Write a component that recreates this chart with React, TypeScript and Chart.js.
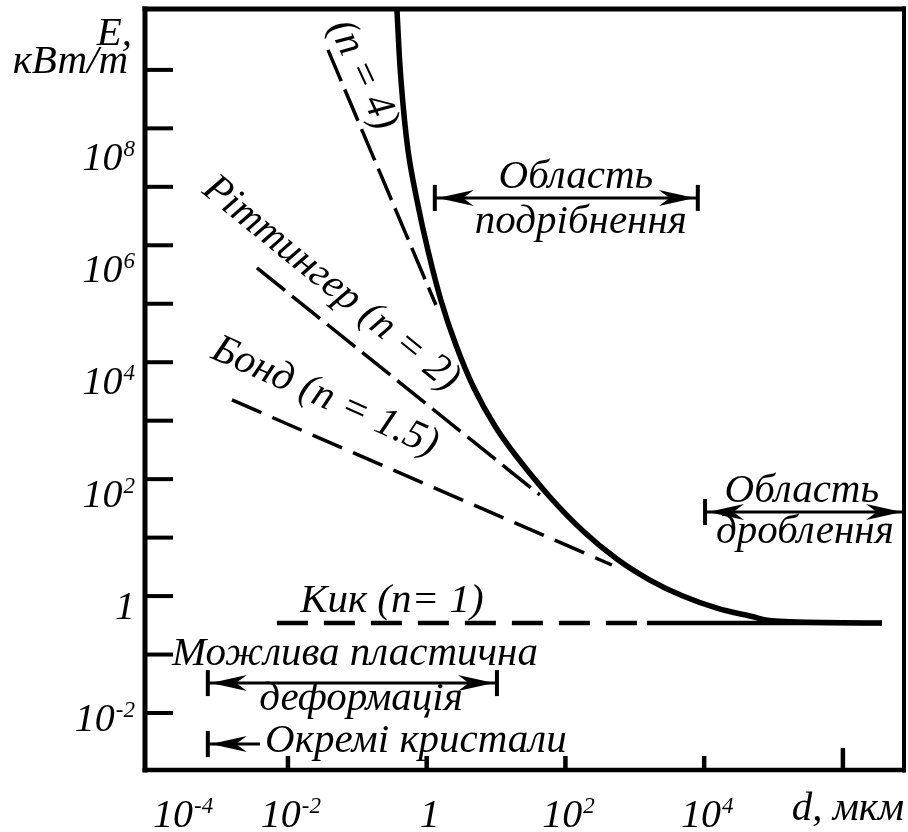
import { useEffect, useRef } from "react";
import { Chart, registerables } from "chart.js";

Chart.register(...registerables);

const FONT = '"Liberation Serif", "Times New Roman", serif';
const INK = "#000";
const font = (px: number) => `italic ${px}px ${FONT}`;
const TEXT_PX = 41;
const TICK_PX = 40;
const SUP_PX = 23;

// Axis ranges: particle size d (мкм) and specific energy E (кВт/т), both logarithmic
const X_MIN = 8.7e-5;
const X_MAX = 7.6e6;
const Y_MIN = 1.06e-3;
const Y_MAX = 1.1e10;

// Tick marks and tick labels
const yTickValues = [1e-2, 1e-1, 1, 1e1, 1e2, 1e3, 1e4, 1e5, 1e6, 1e7, 1e8, 1e9];
const yLabelValues = [1e8, 1e6, 1e4, 1e2, 1, 1e-2];
const yLabelBase = ["10", "10", "10", "10", "1", "10"];
const yLabelPower = ["8", "6", "4", "2", "", "-2"];

const xTickValues = [1e-2, 1, 1e2, 1e4, 1e6];
const xLabelValues = [1e-4, 1e-2, 1, 1e2, 1e4];
const xLabelBase = ["10", "10", "1", "10", "10"];
const xLabelPower = ["-4", "-2", "", "2", "4"];
const xTitleValue = 1e6;
const xTitle = "d, мкм";
const yTitle = ["E,", "кВт/т"];

// Total size-reduction energy curve
const totalD = [0.372, 0.426, 0.537, 0.723, 1.04, 1.6, 2.64, 4.8, 9.64, 20.0, 59.8, 179, 552, 1650, 4940, 15300, 45600, 1.05e5, 3.65e6];
const totalE = [1.1e10, 6.75e8, 4.28e7, 5.97e6, 8.32e5, 1.16e5, 1.97e4, 3620, 811, 239, 49.5, 13.0, 4.31, 1.88, 1.0, 0.62, 0.456, 0.374, 0.346];

// Kick law (n = 1): dashed, then solid where it joins the curve
const kickD = [6.93e-3, 1.5e3, 3.65e6];
const kickE = [0.346, 0.346, 0.346];

// Bond law (n = 1.5)
const bondD = [1.56e-3, 468];
const bondE = [2260, 3.4];

// Rittinger law (n = 2)
const rittingerD = [3.57e-3, 42.8];
const rittingerE = [4.1e5, 53.6];

// n = 4 law
const n4D = [0.0378, 1.36];
const n4E = [2.2e9, 9.5e4];

// Inclined curve captions
const slantLabels = [
  { text: "(n = 4)", d: 0.12, e: 8.2e8, angle: 65 },
  { text: "Ріттингер (n = 2)", d: 0.0417, e: 2.18e5, angle: 39 },
  { text: "Бонд (n = 1.5)", d: 0.0341, e: 2540, angle: 24 },
];

// Horizontal captions (centre, baseline)
const flatLabels = [
  { text: "Кик (n= 1)", d: 0.315, e: 0.533 },
  { text: "Область", d: 141.6, e: 9.57e6 },
  { text: "подрібнення", d: 167, e: 1.63e6 },
  { text: "Область", d: 2.56e5, e: 40.6 },
  { text: "дроблення", d: 2.83e5, e: 8.1 },
  { text: "Можлива пластична", d: 0.0925, e: 0.066 },
  { text: "деформація", d: 0.113, e: 0.0112 },
  { text: "Окремі кристали", d: 0.7, e: 2.15e-3 },
];

// Size-range arrows
const rangeArrows = [
  { from: 1.31, to: 8.1e3, e: 6.46e6, barFrom: true, barTo: true, headFrom: true, headTo: true },
  { from: 1.03e4, to: X_MAX, e: 27.4, barFrom: true, barTo: false, headFrom: true, headTo: true },
  { from: 7.0e-4, to: 10.3, e: 0.0325, barFrom: true, barTo: true, headFrom: true, headTo: true },
  { from: 7.0e-4, to: 3.95e-3, e: 2.94e-3, barFrom: true, barTo: false, headFrom: true, headTo: false },
];

const pts = (xs: number[], ys: number[]) => xs.map((x, i) => ({ x, y: ys[i] }));

function seg(ctx: CanvasRenderingContext2D, x1: number, y1: number, x2: number, y2: number, w: number) {
  ctx.lineWidth = w;
  ctx.beginPath();
  ctx.moveTo(x1, y1);
  ctx.lineTo(x2, y2);
  ctx.stroke();
}

function head(ctx: CanvasRenderingContext2D, tipX: number, y: number, dir: number) {
  const L = 36;
  const h = 8;
  ctx.beginPath();
  ctx.moveTo(tipX, y);
  ctx.lineTo(tipX - dir * L, y - h);
  ctx.lineTo(tipX - dir * L * 0.7, y);
  ctx.lineTo(tipX - dir * L, y + h);
  ctx.closePath();
  ctx.fill();
}

function power(
  ctx: CanvasRenderingContext2D,
  base: string,
  pow: string,
  x: number,
  y: number,
  align: "right" | "center",
  minLeft = -Infinity
) {
  ctx.textAlign = "left";
  ctx.textBaseline = "alphabetic";
  ctx.font = font(TICK_PX);
  const wb = ctx.measureText(base).width;
  ctx.font = font(SUP_PX);
  const wp = pow ? ctx.measureText(pow).width + 1 : 0;
  const total = wb + wp;
  let x0 = align === "right" ? x - total : x - total / 2;
  if (x0 < minLeft) x0 = minLeft;
  ctx.font = font(TICK_PX);
  ctx.fillText(base, x0, y);
  if (pow) {
    ctx.font = font(SUP_PX);
    ctx.fillText(pow, x0 + wb + 1, y - 14);
  }
}

// The E labels are set on a slightly tighter pitch than the decade ticks
const yLabelAnchor = (v: number) => Math.pow(10, 0.96 * Math.log10(v) - 0.16);

const decor = {
  id: "decor",
  afterDatasetsDraw(chart: any) {
    const { ctx, chartArea: a } = chart;
    const X = (v: number) => chart.scales.x.getPixelForValue(v);
    const Y = (v: number) => chart.scales.y.getPixelForValue(v);
    ctx.save();
    ctx.fillStyle = INK;
    ctx.strokeStyle = INK;
    ctx.lineCap = "butt";

    // frame
    seg(ctx, a.left, a.top - 2.5, a.left, a.bottom + 2.5, 5);
    seg(ctx, a.left - 2.5, a.top, a.right + 2, a.top, 5);
    seg(ctx, a.right, a.top - 2.5, a.right, a.bottom + 2.5, 4);
    seg(ctx, a.left - 2.5, a.bottom, a.right + 2, a.bottom, 4.5);

    // inward tick marks
    yTickValues.forEach((v) => seg(ctx, a.left, Y(v), a.left + 28, Y(v), 4));
    xTickValues.forEach((v) => seg(ctx, X(v), a.bottom, X(v), a.bottom - (v === xTitleValue ? 22 : 14), 4.5));

    // tick labels
    yLabelValues.forEach((v, i) =>
      power(ctx, yLabelBase[i], yLabelPower[i], a.left - 10, Y(yLabelAnchor(v)) + 13.5, "right")
    );
    xLabelValues.forEach((v, i) => power(ctx, xLabelBase[i], xLabelPower[i], X(v) + 3, a.bottom + 57, "center", a.left + 8));

    // axis titles
    ctx.font = font(TEXT_PX);
    ctx.textBaseline = "alphabetic";
    ctx.textAlign = "center";
    ctx.fillText(xTitle, X(xTitleValue) + 5, a.bottom + 50);
    ctx.textAlign = "right";
    ctx.fillText(yTitle[0], a.left - 13, a.top + 36);
    ctx.fillText(yTitle[1], a.left - 17, a.top + 64);

    // inclined captions
    ctx.textAlign = "center";
    ctx.textBaseline = "middle";
    slantLabels.forEach((l) => {
      ctx.save();
      ctx.translate(X(l.d), Y(l.e));
      ctx.rotate((l.angle * Math.PI) / 180);
      ctx.fillText(l.text, 0, 0);
      ctx.restore();
    });

    // horizontal captions
    ctx.textBaseline = "alphabetic";
    flatLabels.forEach((l) => ctx.fillText(l.text, X(l.d), Y(l.e)));

    // range arrows
    rangeArrows.forEach((r) => {
      const x1 = X(r.from);
      const x2 = Math.min(X(r.to), a.right - 2);
      const y = Y(r.e);
      seg(ctx, x1, y, x2, y, 3);
      if (r.barFrom) seg(ctx, x1, y - 13, x1, y + 13, 4);
      if (r.barTo) seg(ctx, x2, y - 13, x2, y + 13, 4);
      if (r.headFrom) head(ctx, x1 + (r.barFrom ? 3 : 0), y, -1);
      if (r.headTo) head(ctx, x2 - (r.barTo ? 3 : 0), y, 1);
    });

    ctx.restore();
  },
};

export default function App() {
  const ref = useRef<HTMLCanvasElement>(null);

  useEffect(() => {
    const line = (data: { x: number; y: number }[], width: number, dash: number[], extra: any = {}) => ({
      data,
      borderColor: INK,
      borderWidth: width,
      borderDash: dash,
      borderCapStyle: "butt",
      borderJoinStyle: "round",
      pointRadius: 0,
      fill: false,
      tension: 0,
      ...extra,
    });

    const chart = new Chart(ref.current!, {
      type: "line",
      data: {
        datasets: [
          line(pts(totalD, totalE), 5.5, [], { tension: 0.4 }),
          line(pts(kickD, kickE), 4.5, [], {
            segment: { borderDash: (c: any) => (c.p0DataIndex === 0 ? [31, 16] : []) },
          }),
          line(pts(bondD, bondE), 3.5, [32, 12]),
          line(pts(rittingerD, rittingerE), 3.5, [36, 9]),
          line(pts(n4D, n4E), 3.5, [34, 9]),
        ] as any,
      },
      options: {
        responsive: false,
        devicePixelRatio: 1,
        animation: false,
        events: [],
        layout: { padding: { left: 145, top: 9, right: 4, bottom: 62 } },
        plugins: { legend: { display: false }, tooltip: { enabled: false } },
        scales: {
          x: { type: "logarithmic", min: X_MIN, max: X_MAX, display: false },
          y: { type: "logarithmic", min: Y_MIN, max: Y_MAX, display: false },
        },
      },
      plugins: [decor],
    });
    return () => chart.destroy();
  }, []);

  return (
    <div style={{ position: "fixed", left: 0, top: 0, width: 908, height: 832, background: "#fff" }}>
      <canvas ref={ref} width={908} height={832} style={{ display: "block", width: 908, height: 832 }} />
    </div>
  );
}
